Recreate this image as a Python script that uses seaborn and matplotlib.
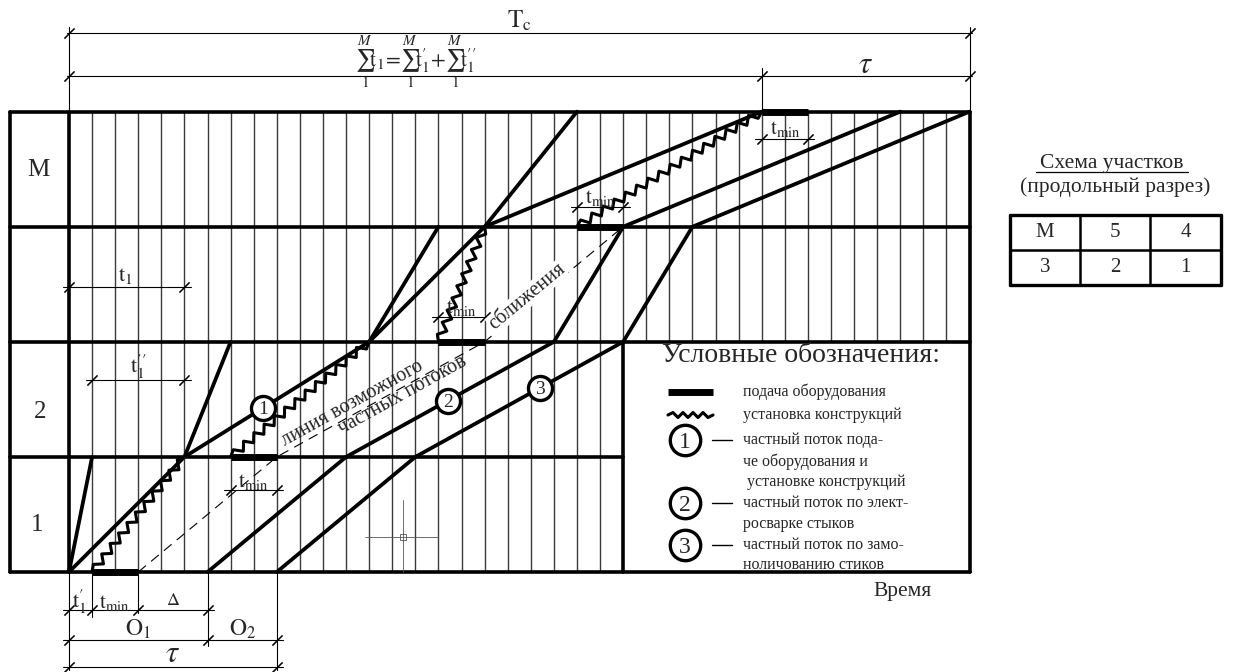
import numpy as np
import pandas as pd
import matplotlib
matplotlib.use("Agg")
import matplotlib.pyplot as plt
import seaborn as sns

# ---- data (time in grid steps, rows 0..4 from the bottom) ----
n_units = 39
row_labels = ["1", "2", "M"]
row_label_u = [-1.39, -1.26, -1.34]
row_label_r = [0.41, 1.39, 3.49]
levels = [0, 1, 2, 3, 4]

flow1_u = [0, 5, 13, 18, 30]      # supply + installation
flow2_u = [6, 12, 21, 24, 36]     # welding of joints
flow3_u = [9, 15, 24, 27, 39]     # grouting of joints
steep_start = [0, 5, 13, 18]
steep_end = [1, 7, 16, 22]
bar_start = [1, 7, 16, 22, 30]
bar_row = [0, 1, 2, 3, 4]
t_min = 2
zig_start = [1, 7, 16, 22]
zig_end = [5, 13, 18, 30]
conv_u = [3, 9, 18, 24]           # line of possible convergence
conv_r = [0, 1, 2, 3]
circle_u = [8.4, 16.4, 20.4]
circle_txt = ["1", "2", "3"]
legend_u = 24

legend_lines = ["подача оборудования", "установка конструкций",
                "частный поток пода-", "че оборудования и", " установке конструкций",
                "частный поток по элект-", "росварке стыков",
                "частный поток по замо-", "ноличованию стиков"]
legend_line_r = [1.564, 1.364, 1.147, 0.955, 0.781, 0.599, 0.417, 0.234, 0.061]
legend_circ_r = [1.147, 0.599, 0.234]

scheme_cells = [["M", "5", "4"], ["3", "2", "1"]]

sns.set_theme(style="white")
plt.rcParams["font.family"] = ["Liberation Serif", "DejaVu Serif"]

fig = plt.figure(figsize=(12.39, 6.72), dpi=100)
ax = fig.add_axes([0, 0, 1, 1])
ax.set_xlim(-2.988, 50.67)
ax.set_ylim(-0.869, 4.970)
ax.set_axis_off()

K = "black"
MF = "stix"


def zigzag(u0, r0, u1, r1, step=6.5, amp=3.8):
    p0 = ax.transData.transform((u0, r0))
    p1 = ax.transData.transform((u1, r1))
    d = p1 - p0
    L = np.hypot(*d)
    t = d / L
    nrm = np.array([-t[1], t[0]])
    n = int(L // step)
    s = np.linspace(0, L, n + 1)
    off = np.where(np.arange(n + 1) % 2, amp, -amp).astype(float)
    off[0] = off[-1] = 0
    pts = p0 + np.outer(s, t) + np.outer(off, nrm)
    return ax.transData.inverted().transform(pts)


def px_angle(u0, r0, u1, r1):
    p0 = ax.transData.transform((u0, r0))
    p1 = ax.transData.transform((u1, r1))
    return np.degrees(np.arctan2(p1[1] - p0[1], p1[0] - p0[0]))


tick = (2, 2, -45)


def dim(u0, u1, r, ticks, ext=0.28):
    ax.plot([u0 - ext, u1 + ext], [r, r], color=K, lw=0.8)
    ax.plot(ticks, [r] * len(ticks), ls="none", marker=tick, ms=10, mew=0.8, color=K)


# ---- grid ----
left = -2.55
for u in range(1, n_units):
    lo = 0 if u < legend_u else 2
    ax.plot([u, u], [lo, 4], color="#3a3a3a", lw=1.0)
for r in [0, 2, 3, 4]:
    ax.plot([left, n_units], [r, r], color=K, lw=2.6)
ax.plot([left, legend_u], [1, 1], color=K, lw=2.6)
for u in [left, 0, n_units]:
    ax.plot([u, u], [0, 4], color=K, lw=2.6)
ax.plot([legend_u, legend_u], [0, 2], color=K, lw=2.6)

for lab, u, r in zip(row_labels, row_label_u, row_label_r):
    ax.text(u, r, lab, fontsize=18, ha="center", va="center")

# ---- flow lines (seaborn) ----
rows = []
for name, us in [("f1", flow1_u), ("f2", flow2_u), ("f3", flow3_u)]:
    for u, r in zip(us, levels):
        rows.append(dict(line=name, u=u, r=r))
for i, (a, b) in enumerate(zip(steep_start, steep_end)):
    rows.append(dict(line=f"s{i}", u=a, r=i))
    rows.append(dict(line=f"s{i}", u=b, r=i + 1))
df = pd.DataFrame(rows)
sns.lineplot(data=df, x="u", y="r", units="line", estimator=None, sort=False,
             color=K, lw=2.7, ax=ax, legend=False)

# equipment supply bars
for u, r in zip(bar_start, bar_row):
    ax.plot([u, u + t_min], [r, r], color=K, lw=5, solid_capstyle="butt")

# installation zigzags
for a, b, r in zip(zig_start, zig_end, levels):
    z = zigzag(a, r, b, r + 1)
    ax.plot(z[:, 0], z[:, 1], color=K, lw=2.2)

# convergence line
ax.plot(conv_u, conv_r, color=K, lw=0.8, dashes=(9, 6))
a1 = px_angle(conv_u[1], 1, conv_u[2], 2)
a2 = px_angle(conv_u[2], 2, conv_u[3], 3)
ax.text(12.26, 1.46, "линия возможного", fontsize=14.5, rotation=a1,
        rotation_mode="anchor", ha="center", va="center")
ax.text(14.47, 1.54, "частных потоков", fontsize=14.5, rotation=a1,
        rotation_mode="anchor", ha="center", va="center")
ax.text(19.84, 2.39, "сближения", fontsize=14.5, rotation=a2,
        rotation_mode="anchor", ha="center", va="center",
        bbox=dict(fc="white", ec="none", pad=0.5))

# flow circles
cr = [np.interp(u, us, levels) for u, us in zip(circle_u, [flow1_u, flow2_u, flow3_u])]
sns.scatterplot(x=circle_u, y=cr, s=300, color="white", edgecolor=K, linewidth=2.4,
                ax=ax, legend=False, zorder=5)
for u, r, t in zip(circle_u, cr, circle_txt):
    ax.text(u, r, t, fontsize=14, ha="center", va="center_baseline", zorder=6)

# cad cursor mark
ax.plot([14.47, 14.47], [0, 0.626], color="#555", lw=0.6)
ax.plot([12.82, 15.98], [0.304, 0.304], color="#555", lw=0.6)
ax.plot([14.47], [0.304], marker="s", ms=4, mfc="none", mec="#555", mew=0.6)

# ---- dimensions on top ----
ax.plot([0, 0], [4, 4.735], color=K, lw=0.8)
ax.plot([n_units, n_units], [4, 4.735], color=K, lw=0.8)
ax.plot([30, 30], [4, 4.38], color=K, lw=0.8)
dim(0, n_units, 4.683, [0, n_units], ext=0.1)
dim(0, n_units, 4.312, [0, 30, n_units], ext=0.1)
ax.text(19.5, 4.79, r"$\mathrm{T_c}$", math_fontfamily=MF, fontsize=18, ha="center", va="center")
ax.text(15.0, 4.43, r"$\sum_1^M\!\mathrm{t_1}\!=\!\sum_1^M\!\mathrm{t_1^{\prime}}\!+\!\sum_1^M\!\mathrm{t_1^{\prime\prime}}$",
        math_fontfamily=MF, fontsize=15.5, ha="center", va="center")
ax.text(34.5, 4.40, r"$\tau$", math_fontfamily=MF, fontsize=22, ha="center", va="center")

# ---- dimensions inside the grid ----
dim(0, 5, 2.476, [0, 5])
ax.text(2.45, 2.57, r"$\mathrm{t_1}$", math_fontfamily=MF, fontsize=16, ha="center", va="center")
dim(1, 5, 1.668, [1, 5])
ax.text(3.0, 1.78, r"$\mathrm{t_1^{\prime\prime}}$", math_fontfamily=MF, fontsize=16, ha="center", va="center")
for u0, r, tr in [(7, 0.712, 0.78), (16, 2.215, 2.295), (22, 3.171, 3.25), (30, 3.762, 3.845)]:
    dim(u0, u0 + t_min, r, [u0, u0 + t_min])
    ax.text(u0 + t_min / 2, tr, r"$\mathrm{t_{min}}$", math_fontfamily=MF, fontsize=15,
            ha="center", va="center")

# ---- dimensions below ----
ax.plot([0, 0], [0, -0.85], color=K, lw=0.8)
ax.plot([1, 1], [0, -0.39], color=K, lw=0.8)
ax.plot([3, 3], [0, -0.36], color=K, lw=0.8)
ax.plot([6, 6], [0, -0.64], color=K, lw=0.8)
ax.plot([9, 9], [0, -0.85], color=K, lw=0.8)
dim(0, 6, -0.330, [0, 1, 3, 6])
dim(0, 9, -0.591, [0, 6, 9])
dim(0, 9, -0.825, [0, 9])
ax.text(0.45, -0.26, r"$\mathrm{t_1^{\prime}}$", math_fontfamily=MF, fontsize=16, ha="center", va="center")
ax.text(1.95, -0.27, r"$\mathrm{t_{min}}$", math_fontfamily=MF, fontsize=15, ha="center", va="center")
ax.text(4.5, -0.25, r"$\Delta$", math_fontfamily=MF, fontsize=13, ha="center", va="center")
ax.text(3.0, -0.50, r"$\mathrm{O_1}$", math_fontfamily=MF, fontsize=17, ha="center", va="center")
ax.text(7.5, -0.50, r"$\mathrm{O_2}$", math_fontfamily=MF, fontsize=17, ha="center", va="center")
ax.text(4.5, -0.72, r"$\tau$", math_fontfamily=MF, fontsize=22, ha="center", va="center")
ax.text(36.1, -0.17, "Время", fontsize=15.5, ha="center", va="center")

# ---- legend box ----
ax.text(31.7, 1.885, "Условные обозначения:", fontsize=20, ha="center", va="center")
ax.plot([25.94, 27.89], [1.564, 1.564], color=K, lw=5, solid_capstyle="butt")
z = zigzag(25.94, 1.364, 27.89, 1.364, step=5, amp=2.5)
ax.plot(z[:, 0], z[:, 1], color=K, lw=2.2)
for t, r in zip(legend_lines, legend_line_r):
    ax.text(29.19, r, t, fontsize=11.5, ha="left", va="center")
sns.scatterplot(x=[26.68] * 3, y=legend_circ_r, s=480, color="white", edgecolor=K,
                linewidth=2.4, ax=ax, legend=False, zorder=5)
for r, t in zip(legend_circ_r, circle_txt):
    ax.text(26.68, r, t, fontsize=17, ha="center", va="center_baseline", zorder=6)
    ax.plot([27.85, 28.7], [r, r], color=K, lw=1.0)

# ---- scheme of sections ----
ax.text(45.17, 3.553, "Схема участков", fontsize=15.5, ha="center", va="center")
ax.plot([41.9, 48.45], [3.475, 3.475], color=K, lw=0.9)
ax.text(45.3, 3.345, "(продольный разрез)", fontsize=15.5, ha="center", va="center")
tx = [40.75, 43.78, 46.82, 49.89]
ty = [3.102, 2.798, 2.494]
for i, x in enumerate(tx):
    ax.plot([x, x], [ty[2], ty[0]], color=K, lw=2.4 if i in (0, 3) else 1.8)
for i, y in enumerate(ty):
    ax.plot([tx[0], tx[3]], [y, y], color=K, lw=2.4 if i != 1 else 1.8)
for i, row in enumerate(scheme_cells):
    for j, t in enumerate(row):
        ax.text((tx[j] + tx[j + 1]) / 2, (ty[i] + ty[i + 1]) / 2, t, fontsize=15,
                ha="center", va="center")

fig.savefig("out.png", dpi=100)
